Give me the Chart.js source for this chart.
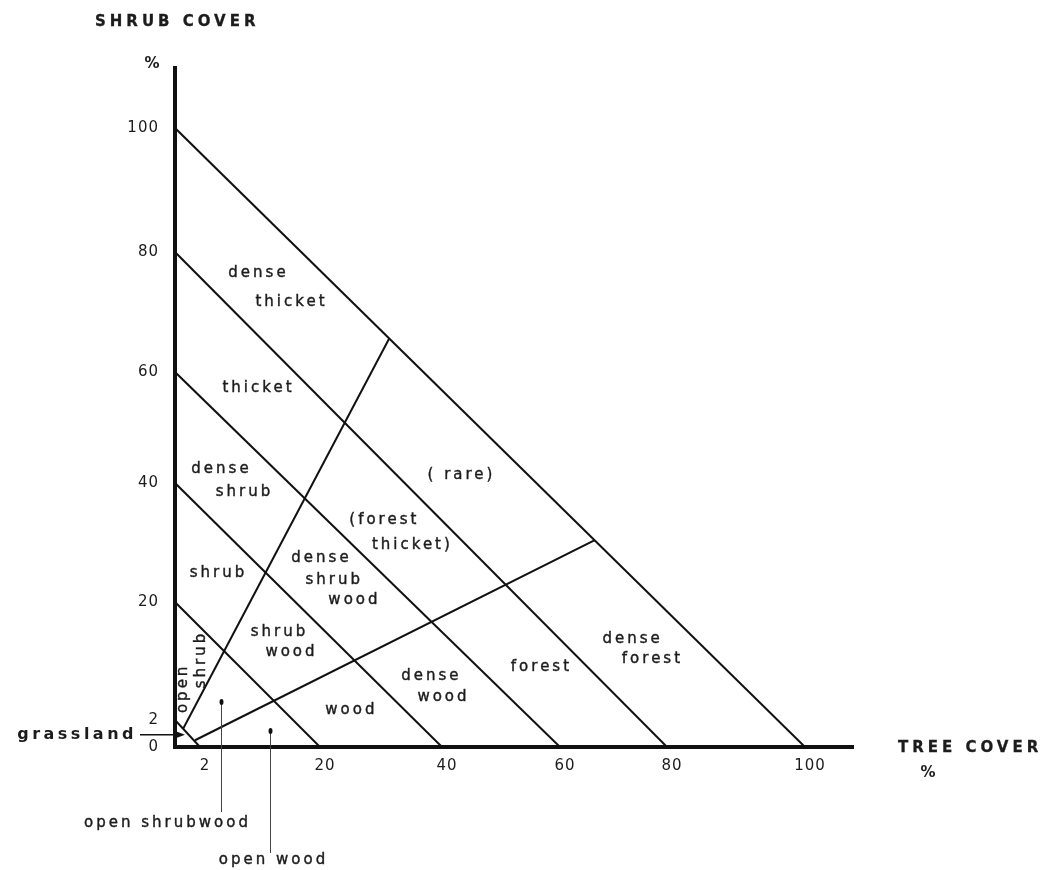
<!DOCTYPE html>
<html><head><meta charset="utf-8">
<script src="https://cdn.jsdelivr.net/npm/chart.js@4.4.1/dist/chart.umd.min.js"></script>
<style>html,body{margin:0;padding:0;background:#fff;}canvas{display:block;}</style>
</head><body>
<canvas id="c" width="1049" height="870"></canvas>
<script>
// ---------- data ----------
const totalCoverLevels = [100, 80, 60, 40, 20, 2];      // lines of equal tree+shrub cover
const steepDividerTree = [0.65, 31.3];                   // shrub-dominated divider
const steepDividerShrub = [1.35, 65.5];
const shallowDividerTree = [1.6, 66.5];                  // tree-dominated divider
const shallowDividerShrub = [0.5, 30.4];
const treeTickValues = [2, 20, 40, 60, 80, 100];
const shrubTickValues = [0, 2, 20, 40, 60, 80, 100];

const regionText  = ['dense','thicket','thicket','dense','shrub','shrub','dense','shrub','wood','(forest','thicket)','( rare)','shrub','wood','wood','dense','wood','forest','dense','forest'];
const regionTree  = [10.55, 15.5, 10.55, 5.0, 8.45, 4.55, 20.0, 22.1, 25.4, 30.3, 34.9, 43.05, 13.7, 15.5, 24.9, 38.0, 40.0, 56.6, 73.3, 77.0];
const regionShrub = [76.5, 71.7, 57.1, 42.5, 38.5, 24.9, 27.4, 23.7, 20.3, 33.8, 29.6, 41.4, 15.4, 12.4, 3.5, 8.7, 5.5, 10.1, 14.4, 11.3];
const verticalText  = ['open', 'shrub'];
const verticalTree  = [0.64, 2.15];
const verticalShrub = [6.6, 11.0];
const calloutText  = ['open shrubwood', 'open wood'];
const calloutTree  = [5.15, 12.5];
const calloutShrub = [5.05, 1.33];
const grasslandTree = 0.8, grasslandShrub = 0.9;

// hand-drawn axis: tick spacing of the original (origin stretched)
const axisKnots = {
  x: { values: [0, 2, 20, 40, 60, 80, 100, 107], spans: [0, 25, 145, 267, 385, 492, 630, 678] },
  y: { values: [0, 2, 20, 40, 60, 80, 100, 110], spans: [0, 27, 145, 264, 375, 495, 619, 679] }
};

class KnotScale extends Chart.LinearScale {
  getPixelForValue(value) {
    const k = axisKnots[this.id], v = k.values, s = k.spans, L = s[s.length - 1];
    let i = 0;
    while (i < v.length - 2 && value > v[i + 1]) i++;
    const t = (value - v[i]) / (v[i + 1] - v[i]);
    return this.getPixelForDecimal((s[i] + t * (s[i + 1] - s[i])) / L);
  }
  getValueForPixel(pixel) {
    const k = axisKnots[this.id], v = k.values, s = k.spans, L = s[s.length - 1];
    const d = this.getDecimalForPixel(pixel) * L;
    let i = 0;
    while (i < s.length - 2 && d > s[i + 1]) i++;
    return v[i] + (d - s[i]) / (s[i + 1] - s[i]) * (v[i + 1] - v[i]);
  }
}
KnotScale.id = 'knot';
KnotScale.defaults = {};
Chart.register(KnotScale);

const INK = '#111';
const TXT = '#1c1c1c';

const datasets = totalCoverLevels.map(c => ({
  data: [{x: 0, y: c}, {x: c, y: 0}]
}));
datasets.push({ data: steepDividerTree.map((t, i) => ({x: t, y: steepDividerShrub[i]})) });
datasets.push({ data: shallowDividerTree.map((t, i) => ({x: t, y: shallowDividerShrub[i]})) });
datasets.forEach(d => Object.assign(d, {
  showLine: true, borderColor: INK, borderWidth: 2, pointRadius: 0, fill: false, tension: 0
}));

function spaced(ctx, s, x, y, sp, weight) {
  ctx.letterSpacing = sp + 'px';
  const xx = x + (ctx.textAlign === 'center' ? sp / 2 : 0);
  ctx.fillText(s, xx, y);
  if (weight) { ctx.lineWidth = weight; ctx.strokeStyle = ctx.fillStyle; ctx.strokeText(s, xx, y); }
}

const annotate = {
  id: 'annotate',
  beforeDraw(chart) { chart.ctx.letterSpacing = '1px'; },
  afterDraw(chart) {
    const ctx = chart.ctx, X = chart.scales.x, Y = chart.scales.y;
    ctx.save();
    ctx.fillStyle = TXT;
    ctx.textAlign = 'center';
    ctx.textBaseline = 'middle';
    // region names
    ctx.font = '15px "DejaVu Sans"';
    regionText.forEach((t, i) => {
      spaced(ctx, t, X.getPixelForValue(regionTree[i]), Y.getPixelForValue(regionShrub[i]), 3, 0.4);
    });
    // vertical "open shrub"
    verticalText.forEach((t, i) => {
      ctx.save();
      ctx.translate(X.getPixelForValue(verticalTree[i]), Y.getPixelForValue(verticalShrub[i]));
      ctx.rotate(-Math.PI / 2);
      spaced(ctx, t, 0, 0, 3, 0.4);
      ctx.restore();
    });
    // callouts below the axis
    calloutText.forEach((t, i) => {
      const px = X.getPixelForValue(calloutTree[i]), py = Y.getPixelForValue(calloutShrub[i]);
      const labelDx = i === 0 ? -55 : 2, labelDy = i === 0 ? 123 : 131, lineDy = i === 0 ? 112 : 124;
      ctx.strokeStyle = '#444'; ctx.lineWidth = 1;
      ctx.beginPath(); ctx.moveTo(px + 0.5, py + 3); ctx.lineTo(px + 0.5, py + lineDy); ctx.stroke();
      ctx.fillStyle = INK;
      ctx.beginPath(); ctx.ellipse(px + 0.5, py + 2, 2, 3, 0, 0, Math.PI * 2); ctx.fill();
      ctx.fillStyle = TXT;
      ctx.font = '15px "DejaVu Sans"';
      spaced(ctx, t, px + labelDx, py + labelDy, 3, 0.4);
    });
    // grassland arrow
    const gx = X.getPixelForValue(grasslandTree), gy = Y.getPixelForValue(grasslandShrub);
    ctx.strokeStyle = INK; ctx.lineWidth = 1.5;
    ctx.beginPath(); ctx.moveTo(gx - 45, gy); ctx.lineTo(gx - 5, gy); ctx.stroke();
    ctx.fillStyle = INK;
    ctx.beginPath(); ctx.moveTo(gx, gy); ctx.lineTo(gx - 8, gy - 3); ctx.lineTo(gx - 8, gy + 3); ctx.closePath(); ctx.fill();
    ctx.fillStyle = TXT;
    ctx.font = 'bold 16px "DejaVu Sans"';
    ctx.textAlign = 'right';
    spaced(ctx, 'grassland', gx - 48, gy, 3.5);
    // axis titles
    ctx.textAlign = 'left';
    ctx.font = 'bold 15px "DejaVu Sans"';
    spaced(ctx, 'SHRUB COVER', X.left - 80, Y.top - 46, 4, 0.3);
    spaced(ctx, 'TREE COVER', X.right + 45, Y.bottom + 1, 4, 0.3);
    ctx.textAlign = 'center';
    ctx.font = 'bold 15px "DejaVu Sans"';
    spaced(ctx, '%', X.left - 23, Y.top - 4, 0);
    spaced(ctx, '%', X.right + 75, Y.bottom + 26, 0);
    ctx.restore();
    ctx.letterSpacing = '0px';
  }
};

new Chart(document.getElementById('c'), {
  type: 'scatter',
  data: { datasets },
  options: {
    responsive: false,
    animation: false,
    devicePixelRatio: 1,
    layout: { padding: { top: 68, right: 196, left: 0, bottom: 0 } },
    plugins: { legend: { display: false }, tooltip: { enabled: false } },
    scales: {
      x: {
        type: 'knot', min: 0, max: 107,
        afterBuildTicks: s => { s.ticks = treeTickValues.map(v => ({ value: v })); },
        afterFit: s => { s.height = 123; },
        grid: { display: false, drawTicks: false },
        border: { display: true, color: INK, width: 4 },
        ticks: { color: TXT, font: { family: 'DejaVu Sans', size: 15 }, padding: 10, labelOffset: 5, maxRotation: 0, autoSkip: false, callback: v => String(v) }
      },
      y: {
        type: 'knot', min: 0, max: 110,
        afterBuildTicks: s => { s.ticks = shrubTickValues.map(v => ({ value: v })); },
        afterFit: s => { s.width = 175; },
        grid: { display: false, drawTicks: false },
        border: { display: true, color: INK, width: 4 },
        ticks: { color: TXT, font: { family: 'DejaVu Sans', size: 15 }, padding: 16, autoSkip: false, callback: v => String(v) }
      }
    }
  },
  plugins: [annotate]
});
</script>
</body></html>
